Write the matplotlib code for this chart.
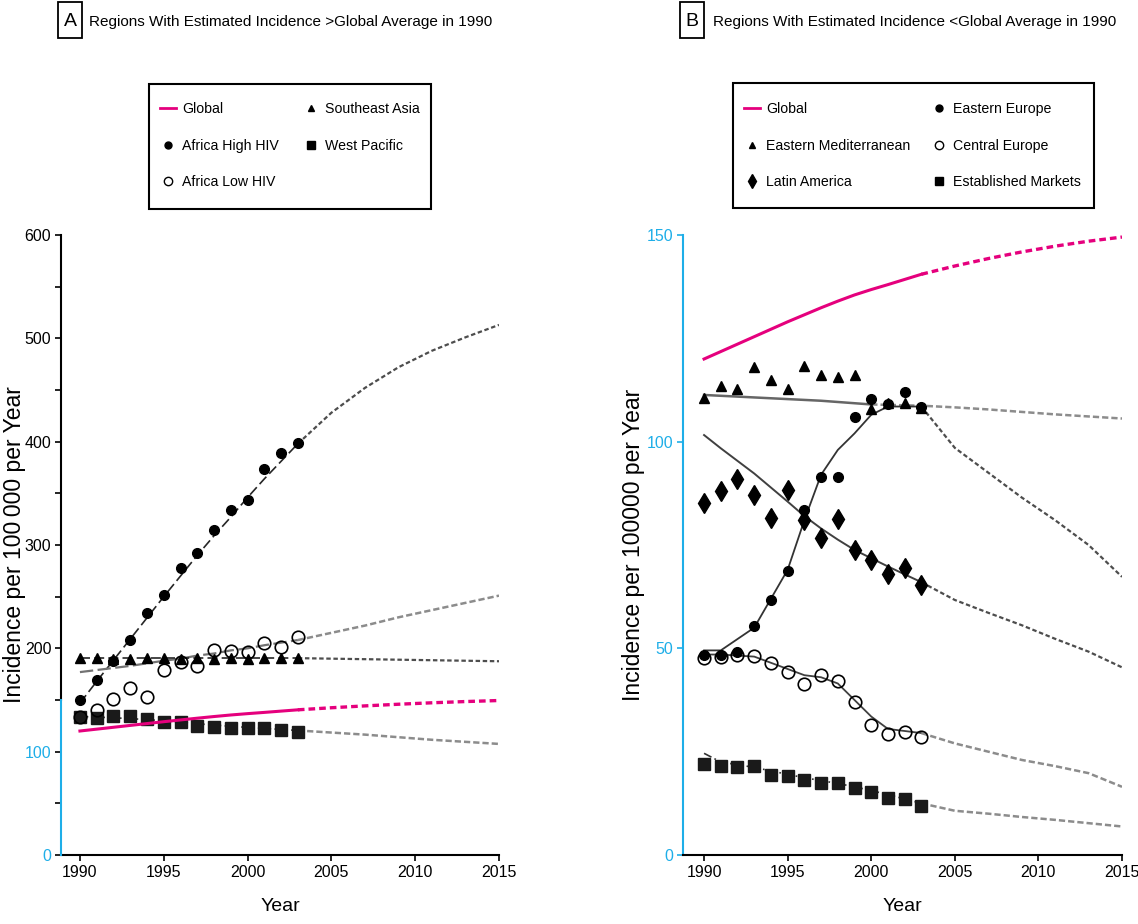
import numpy as np
import matplotlib
matplotlib.use('Agg')
import matplotlib.pyplot as plt
from matplotlib.lines import Line2D
from matplotlib.patches import Rectangle

plt.rcParams['font.family'] = ['Liberation Sans', 'DejaVu Sans']

PINK = '#E5007D'
BLUE = '#1EAEE8'

# observed years and fitted/projected trend years
years = list(range(1990, 2004))
trend_years = [1990, 1991, 1993, 1995, 1996, 1997, 1998, 1999, 2000, 2001,
               2003, 2005, 2007, 2009, 2011, 2013, 2015]

# panel A: regions above the global average in 1990
africa_high = [150, 169, 188, 208, 234, 252, 278, 292, 315, 334, 344, 374, 389, 399]
africa_low = [134, 140, 151, 162, 153, 179, 187, 183, 198, 197, 196, 205, 201, 211]
se_asia = [191, 191, 190, 190, 191, 191, 190, 191, 190, 191, 190, 191, 191, 191]
west_pacific = [134, 133, 135, 135, 132, 129, 129, 125, 124, 123, 123, 123, 121, 119]

global_trend = [120, 121.8, 125.4, 129, 130.7, 132.4, 134, 135.5, 136.8, 138,
                140.5, 142.5, 144.3, 145.9, 147.3, 148.5, 149.5]
africa_high_trend = [147, 168, 209, 250, 270, 290, 309, 327, 346, 364,
                     398, 428, 452, 472, 488, 501, 513]
africa_low_trend = [177, 179, 183, 188, 190, 193, 195, 198, 200, 203,
                    208, 215, 222, 230, 237, 244, 251]
se_asia_trend = [190.5, 190.5, 190.5, 190.5, 190.5, 190.5, 190.5, 190.5, 190.5, 190.5,
                 190.5, 190, 189.5, 189, 188.5, 188, 187.5]
west_pacific_trend = [134, 133.5, 132, 130, 128.5, 127, 125.8, 124.5, 123.5, 122.5,
                      120.5, 118.5, 116.5, 114, 111.5, 109.5, 107.5]

# panel B: regions below the global average in 1990
east_med = [110.5, 113.5, 112.7, 118.1, 114.9, 112.7, 118.4, 116.1, 115.7, 116.1,
            107.8, 109.4, 109.4, 108.2]
latin_america = [85.2, 88.1, 90.9, 87.1, 81.6, 88.3, 81.1, 76.6, 81.2, 73.8,
                 71.4, 68.0, 69.4, 65.3]
east_europe = [48.5, 48.5, 49.0, 55.5, 61.8, 68.7, 83.5, 91.5, 91.5, 106.0,
               110.3, 109.0, 112.1, 108.5]
central_europe = [47.7, 48.0, 48.4, 48.1, 46.4, 44.2, 41.3, 43.5, 42.2, 37.1,
                  31.5, 29.2, 29.8, 28.6]
est_markets = [21.9, 21.5, 21.2, 21.6, 19.4, 19.1, 18.1, 17.3, 17.5, 16.3,
               15.3, 13.9, 13.5, 11.9]

east_med_trend = [111.3, 111.1, 110.7, 110.3, 110.1, 109.9, 109.6, 109.3, 109.0, 108.9,
                  108.7, 108.3, 107.8, 107.2, 106.6, 106.1, 105.6]
latin_america_trend = [101.6, 98.4, 92.3, 85.5, 82, 79, 76.3, 73.8, 71.8, 69.8,
                       66, 61.7, 58.6, 55.6, 52.3, 49.2, 45.4]
east_europe_trend = [49.5, 49.5, 55, 69, 81, 92, 98, 102, 106.5, 108.5,
                     108.5, 98.5, 92.5, 86.5, 81, 75, 67.3]
central_europe_trend = [48.5, 48.5, 48, 45, 43.5, 43, 41.5, 37.5, 33.5, 30.5,
                        29.5, 27, 25, 23, 21.5, 19.8, 16.5]
est_markets_trend = [24.6, 22.5, 21.2, 19.5, 18.7, 18, 17.3, 16.5, 15.6, 14.6,
                     12.5, 10.7, 10, 9.2, 8.5, 7.7, 6.9]

title_a = 'Regions With Estimated Incidence >Global Average in 1990'
title_b = 'Regions With Estimated Incidence <Global Average in 1990'
ylabel_a = 'Incidence per 100\u2009000 per Year'
ylabel_b = 'Incidence per 100000 per Year'


def trend(ax, vals, split, fit, proj):
    t = np.array(trend_years)
    v = np.array(vals)
    ax.plot(t[t <= split], v[t <= split], **fit)
    ax.plot(t[t >= split], v[t >= split], **proj)


fit_dash = dict(color='0.15', lw=1.2, ls=(0, (6, 2.5)), zorder=2)
fit_grey = dict(color='0.45', lw=1.6, ls=(0, (6, 2)), zorder=2)
fit_dashdot = dict(color='0.2', lw=1.2, ls=(0, (5, 2, 1, 2)), zorder=2)
proj = dict(color='0.3', lw=1.6, ls=(0, (2, 1.2)), zorder=2)
proj_grey = dict(color='0.55', lw=1.8, ls=(0, (2.5, 1.2)), zorder=2)
g_fit = dict(color=PINK, lw=2.2, zorder=4)
g_proj = dict(color=PINK, lw=2.4, ls=(0, (2, 1.2)), zorder=4)

fig = plt.figure(figsize=(11.38, 9.24), dpi=100)
W, H = 1138, 924
axA = fig.add_axes([61 / W, 1 - 855 / H, 438 / W, 620 / H])
axB = fig.add_axes([683 / W, 1 - 855 / H, 439 / W, 620 / H])

# ---- panel A
trend(axA, africa_high_trend, 2003, fit_dash, proj)
trend(axA, africa_low_trend, 2003, fit_grey, proj_grey)
trend(axA, se_asia_trend, 2003, fit_dash, proj)
trend(axA, west_pacific_trend, 2003, fit_dashdot, proj_grey)
trend(axA, global_trend, 2003, g_fit, g_proj)

axA.plot(years, se_asia, ls='none', marker='^', ms=7, color='black', zorder=3)
axA.plot(years, west_pacific, ls='none', marker='s', ms=8, color='#1a1a1a', zorder=3)
axA.plot(years, africa_low, ls='none', marker='o', ms=9, mfc='none', mec='black',
         mew=1.2, zorder=3)
axA.plot(years, africa_high, ls='none', marker='o', ms=7, color='black', zorder=3)

# ---- panel B
trend(axB, east_med_trend, 2000, dict(color='0.4', lw=1.8, zorder=2), proj_grey)
trend(axB, latin_america_trend, 2003, dict(color='0.25', lw=1.4, zorder=2), proj)
trend(axB, east_europe_trend, 2003, dict(color='0.2', lw=1.3, zorder=2), proj)
trend(axB, central_europe_trend, 2003, dict(color='0.25', lw=1.3, zorder=2), proj_grey)
trend(axB, est_markets_trend, 2003, fit_dashdot, proj_grey)
trend(axB, global_trend, 2003, g_fit, g_proj)

axB.plot(years, east_med, ls='none', marker='^', ms=7, color='black', zorder=3)
axB.plot(years, latin_america, ls='none', marker='d', ms=10, color='black', zorder=3)
axB.plot(years, east_europe, ls='none', marker='o', ms=7, color='black', zorder=3)
axB.plot(years, central_europe, ls='none', marker='o', ms=9, mfc='none', mec='black',
         mew=1.2, zorder=3)
axB.plot(years, est_markets, ls='none', marker='s', ms=8, color='#1a1a1a', zorder=3)

# ---- axes styling
for ax in (axA, axB):
    for s in ('top', 'right'):
        ax.spines[s].set_visible(False)
    ax.spines['left'].set_linewidth(1.5)
    ax.spines['bottom'].set_linewidth(1.5)
    ax.set_xticks(range(1990, 2016, 5))
    ax.tick_params(labelsize=11.5, length=4, width=1.2, pad=3, direction='out')
    ax.set_xlabel('Year', fontsize=14)
    ax.xaxis.set_label_coords(0.5, -0.07)

axA.set_xlim(1988.87, 2015)
axB.set_xlim(1988.74, 2015)

axA.set_ylim(0, 600)
axA.set_yticks(range(0, 601, 100))
axA.set_yticks(range(50, 600, 100), minor=True)
axA.tick_params(axis='y', which='minor', length=4, width=1.2)
axA.spines['left'].set_bounds(150, 600)
axA.plot([0, 0], [0, 150], transform=axA.get_yaxis_transform(), color=BLUE,
         lw=1.5, clip_on=False, zorder=5)
for t, lab in zip(axA.yaxis.get_major_ticks()[:2], axA.get_yticklabels()[:2]):
    t.tick1line.set_color(BLUE)
    lab.set_color(BLUE)
for t in axA.yaxis.get_minor_ticks()[:2]:
    t.tick1line.set_color(BLUE)

axB.set_ylim(0, 150)
axB.set_yticks([0, 50, 100, 150])
axB.spines['left'].set_color(BLUE)
axB.tick_params(axis='y', colors=BLUE)

axA.set_ylabel(ylabel_a, fontsize=16.5)
axA.yaxis.set_label_coords(-0.081, 0.5)
axB.set_ylabel(ylabel_b, fontsize=16.5)
axB.yaxis.set_label_coords(-0.086, 0.5)

# ---- titles
for letter, x0, title, tx in (('A', 58, title_a, 89), ('B', 680, title_b, 713)):
    fig.patches.append(Rectangle((x0 / W, 1 - 38 / H), 24 / W, 36 / H, fill=False,
                                 ec='black', lw=1.3, transform=fig.transFigure))
    fig.text((x0 + 12) / W, 1 - 21 / H, letter, ha='center', va='center', fontsize=14)
    fig.text(tx / W, 1 - 22 / H, title, va='center', fontsize=11)


# ---- legends
def handle(marker=None, **kw):
    if marker is None:
        return Line2D([], [], color=PINK, lw=2)
    return Line2D([], [], ls='none', marker=marker, color='black', **kw)


leg_kw = dict(loc='upper left', bbox_transform=fig.transFigure, ncol=2, fontsize=10.2,
              frameon=False, handlelength=1.1, handletextpad=0.45, labelspacing=1.6,
              borderpad=0, borderaxespad=0)

hA = [handle(), handle('o', ms=5), handle('o', ms=6, mfc='none'),
      handle('^', ms=5), handle('s', ms=6)]
lA = ['Global', 'Africa High HIV', 'Africa Low HIV', 'Southeast Asia', 'West Pacific']
axA.legend(hA, lA, bbox_to_anchor=(160 / W, 1 - 102 / H), columnspacing=1.7, **leg_kw)
fig.patches.append(Rectangle((149 / W, 1 - 209 / H), 282 / W, 125 / H, fill=False,
                             ec='black', lw=1.5, transform=fig.transFigure))

hB = [handle(), handle('^', ms=5), handle('d', ms=7),
      handle('o', ms=5), handle('o', ms=6, mfc='none'), handle('s', ms=6)]
lB = ['Global', 'Eastern Mediterranean', 'Latin America',
      'Eastern Europe', 'Central Europe', 'Established Markets']
axB.legend(hB, lB, bbox_to_anchor=(744 / W, 1 - 102 / H), columnspacing=1.5, **leg_kw)
fig.patches.append(Rectangle((733 / W, 1 - 208 / H), 361 / W, 125 / H, fill=False,
                             ec='black', lw=1.5, transform=fig.transFigure))

fig.savefig('out.png', dpi=100)
